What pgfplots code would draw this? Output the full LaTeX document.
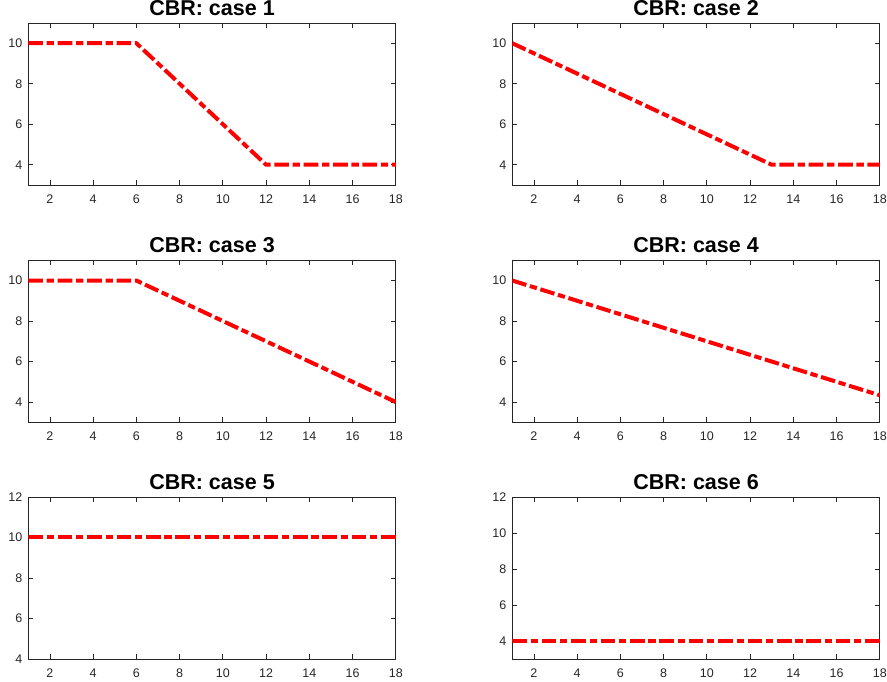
\documentclass[border=0pt]{standalone}
\usepackage{fontspec}
\setmainfont{Liberation Sans}
\usepackage{pgfplots}
\pgfplotsset{compat=1.18}
\definecolor{axgray}{RGB}{38,38,38}
\pgfplotsset{
 cbr/.style={
  scale only axis, width=367.5pt, height=162pt, anchor=south west,
  xmin=1, xmax=18, xtick={2,4,...,18},
  tick align=inside, major tick length=5pt,
  axis line style={axgray, line width=0.8pt},
  every tick/.style={axgray, line width=0.8pt},
  tick label style={font=\fontsize{12.5}{14}\selectfont, text=axgray},
  /pgf/number format/assume math mode=true,
  xticklabel style={anchor=base, inner sep=0pt, yshift=-18.5pt},
  yticklabel style={anchor=east, inner sep=0pt, xshift=-5.8pt},
  title style={font=\fontsize{21.5}{24}\bfseries\selectfont, anchor=base, inner sep=0pt, at={(0.5,1)}, yshift=1.3pt},
 },
 cbrline/.style={red, line width=4pt, dash pattern=on 14.7pt off 3.7pt on 7.3pt off 3.7pt, no marks},
}
\begin{document}
\begin{tikzpicture}
\useasboundingbox (0,0) rectangle (887pt,682pt);
% Row 1
\begin{axis}[cbr, at={(28.3pt,497pt)}, ymin=3, ymax=11, ytick={4,6,8,10}, title={CBR: case 1}]
\addplot[cbrline] coordinates {(1,10) (6,10) (12,4) (18,4)};
\end{axis}
\begin{axis}[cbr, at={(512.3pt,497pt)}, ymin=3, ymax=11, ytick={4,6,8,10}, title={CBR: case 2}]
\addplot[cbrline] coordinates {(1,10) (13,4) (18,4)};
\end{axis}
% Row 2
\begin{axis}[cbr, at={(28.3pt,259.7pt)}, ymin=3, ymax=11, ytick={4,6,8,10}, title={CBR: case 3}]
\addplot[cbrline] coordinates {(1,10) (6,10) (18,4)};
\end{axis}
\begin{axis}[cbr, at={(512.3pt,259.7pt)}, ymin=3, ymax=11, ytick={4,6,8,10}, title={CBR: case 4}]
\addplot[cbrline] coordinates {(1,10) (18,4.3333)};
\end{axis}
% Row 3
\begin{axis}[cbr, at={(28.3pt,23pt)}, ymin=4, ymax=12, ytick={4,6,8,10,12}, title={CBR: case 5}]
\addplot[cbrline] coordinates {(1,10) (18,10)};
\end{axis}
\begin{axis}[cbr, at={(512.3pt,23pt)}, ymin=3, ymax=12, ytick={4,6,8,10,12}, title={CBR: case 6}]
\addplot[cbrline] coordinates {(1,4) (18,4)};
\end{axis}
\end{tikzpicture}
\end{document}
